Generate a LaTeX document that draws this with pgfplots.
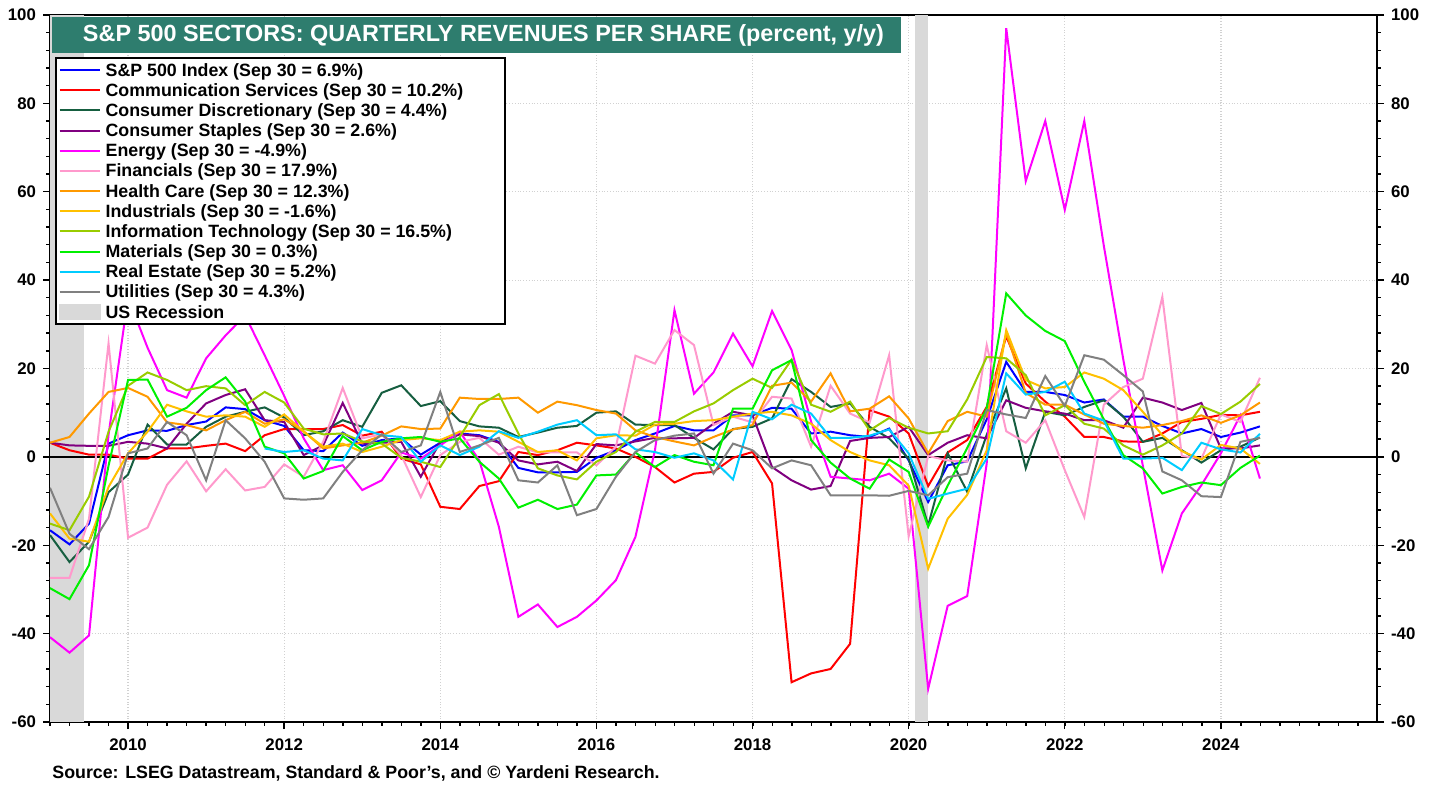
\documentclass[border=0pt]{standalone}
\usepackage{pgfplots}
\pgfplotsset{compat=1.18}
\usepackage{pgfplotstable}
\usepackage{fontspec}
\setmainfont{Liberation Sans}
\definecolor{cSP}{RGB}{0,0,255}
\definecolor{cCS}{RGB}{255,0,0}
\definecolor{cCD}{RGB}{22,94,64}
\definecolor{cST}{RGB}{128,0,128}
\definecolor{cEN}{RGB}{255,0,255}
\definecolor{cFI}{RGB}{255,153,204}
\definecolor{cHC}{RGB}{255,153,0}
\definecolor{cIN}{RGB}{255,192,0}
\definecolor{cIT}{RGB}{153,204,0}
\definecolor{cMA}{RGB}{0,240,0}
\definecolor{cRE}{RGB}{0,204,255}
\definecolor{cUT}{RGB}{128,128,128}
\definecolor{recgray}{RGB}{217,217,217}
\definecolor{titleteal}{RGB}{46,125,110}

\pgfplotstableread{
x sp cs cd st en fi hc in it ma re ut
2009.00 -16.6 3.2 -17.7 3.2 -40.8 -27.4 3.2 -12.8 -15.1 -29.7 nan -7.0
2009.25 -19.8 1.5 -23.8 2.6 -44.3 -27.4 4.5 -18.5 -16.6 -32.2 nan -17.4
2009.50 -15.1 0.5 -19.2 2.5 -40.4 -14.0 9.8 -19.2 -9.0 -24.5 nan -20.9
2009.75 3.0 0.5 -8.0 2.5 5.0 25.7 14.7 -6.8 5.7 -2.0 nan -13.6
2010.00 4.9 -0.4 -4.0 3.4 36.0 -18.3 15.6 0.8 16.1 17.4 nan 0.8
2010.25 6.0 -0.4 7.3 3.0 24.7 -16.0 13.6 5.7 19.1 17.5 nan 1.9
2010.50 5.9 1.9 2.8 1.9 15.1 -6.3 7.8 11.8 17.4 9.1 nan 7.9
2010.75 7.2 1.9 2.8 7.5 13.4 -1.0 7.2 10.3 15.1 11.1 nan 4.9
2011.00 8.0 2.5 6.8 12.1 22.3 -7.8 6.0 9.1 16.0 15.1 nan -5.3
2011.25 11.2 3.0 9.1 14.0 27.5 -2.8 8.3 9.4 15.5 18.0 nan 8.3
2011.50 10.8 1.3 10.2 15.3 32.0 -7.6 10.2 9.1 11.7 12.5 nan 4.2
2011.75 8.3 4.9 11.2 8.3 23.0 -6.8 7.5 6.8 14.7 2.3 1.9 -1.1
2012.00 7.0 6.3 8.9 7.9 13.8 -1.7 8.5 9.6 12.3 0.8 1.1 -9.4
2012.25 1.5 6.3 4.9 0.4 4.2 -4.5 5.8 5.7 6.4 -4.9 1.5 -9.7
2012.50 1.3 6.3 5.8 2.6 -3.0 3.4 1.9 2.3 5.1 -3.2 -0.4 -9.4
2012.75 5.5 7.2 8.3 12.2 -1.9 15.6 2.6 3.0 5.3 4.7 -0.8 -3.4
2013.00 2.5 4.8 6.8 3.0 -7.5 4.2 3.2 1.1 3.5 1.5 6.3 1.5
2013.25 3.8 5.7 14.5 3.2 -5.3 5.1 4.8 2.3 3.0 3.4 4.9 5.1
2013.50 4.2 -0.4 16.2 3.4 1.0 0.4 6.9 3.8 -0.2 4.2 4.5 1.1
2013.75 0.5 -1.7 11.5 -4.5 -0.4 -9.1 6.3 4.2 -1.1 4.5 -1.1 2.6
2014.00 3.2 -11.3 12.6 3.4 2.6 0.4 6.4 3.8 -2.3 3.4 2.6 14.7
2014.25 5.3 -11.8 8.1 5.1 5.7 3.4 13.4 5.7 4.5 4.2 0.4 1.1
2014.50 4.9 -6.6 6.9 4.7 -0.8 4.3 13.1 6.0 11.7 -1.1 2.3 2.6
2014.75 3.4 -5.5 6.6 3.2 -15.8 0.5 13.1 5.7 14.2 -4.9 5.8 4.3
2015.00 -2.5 1.1 4.5 -0.8 -36.2 2.3 13.4 3.4 5.3 -11.5 4.3 -5.3
2015.25 -3.5 0.4 5.5 -1.7 -33.4 1.0 10.0 1.1 -2.6 -9.7 5.7 -5.8
2015.50 -3.5 1.5 6.6 -1.1 -38.5 1.0 12.5 1.5 -4.2 -11.8 7.3 -1.9
2015.75 -3.4 3.2 7.0 -3.2 -36.2 1.0 11.7 -0.8 -5.1 -10.8 8.3 -13.2
2016.00 -0.2 2.6 10.0 2.9 -32.5 -1.9 10.6 4.2 -1.1 -4.2 4.9 -11.8
2016.25 1.5 1.9 10.3 2.6 -27.9 2.3 9.8 4.9 1.1 -4.0 5.1 -4.5
2016.50 3.8 0.0 7.3 3.5 -18.1 22.9 6.0 4.8 5.7 1.0 1.7 1.1
2016.75 5.3 -2.3 7.2 4.3 1.5 21.1 4.5 7.3 7.9 -2.3 1.1 3.8
2017.00 7.0 -5.8 7.2 4.2 33.2 28.7 3.5 7.5 7.9 0.4 -0.2 4.8
2017.25 6.0 -3.8 4.3 4.3 14.3 25.3 2.6 8.1 10.3 -1.1 0.8 5.3
2017.50 6.0 -3.4 1.7 7.5 19.1 7.2 4.5 8.3 12.1 -1.9 -0.8 -3.8
2017.75 9.4 -0.2 6.3 10.2 27.9 9.1 6.2 9.1 15.1 10.9 -5.1 3.0
2018.00 9.4 1.1 6.8 9.4 20.5 7.8 7.2 9.8 17.7 10.9 10.2 1.5
2018.25 11.1 -6.0 8.7 -2.3 33.0 13.6 16.1 10.2 15.6 19.6 8.5 -2.6
2018.50 10.9 -51.0 17.6 -5.3 24.2 13.2 16.8 9.4 22.0 21.9 11.8 -0.8
2018.75 5.3 -49.0 14.7 -7.4 8.0 2.3 12.5 7.5 11.8 3.8 9.8 -1.9
2019.00 5.7 -48.0 11.3 -6.6 -4.5 16.1 18.9 3.8 10.2 -1.3 4.3 -8.7
2019.25 4.9 -42.3 12.1 3.6 -4.9 9.8 10.3 1.1 12.5 -4.9 4.3 -8.7
2019.50 4.5 10.6 6.8 4.3 -5.3 7.8 10.9 -0.8 6.0 -7.2 4.8 -8.7
2019.75 6.4 9.1 4.2 4.5 -3.8 23.0 13.7 -1.9 8.8 -0.6 6.2 -8.8
2020.00 -0.8 5.3 -0.4 6.8 -7.2 -18.0 8.7 -6.5 6.6 -3.4 0.8 -7.7
2020.25 -10.2 -6.6 -15.5 0.4 -52.5 0.2 0.8 -25.3 5.3 -15.8 -9.5 -8.7
2020.50 -1.9 1.0 0.8 3.2 -33.7 -0.8 8.1 -14.0 5.8 -6.5 -8.3 -4.6
2020.75 -1.0 3.8 -7.9 4.9 -31.5 -1.1 10.2 -8.6 13.0 2.0 -7.2 -3.8
2021.00 8.5 11.3 5.0 4.2 -1.5 25.3 9.1 1.5 22.6 11.0 -0.4 10.6
2021.25 21.5 27.3 15.5 12.8 97.0 5.8 28.0 28.7 22.3 37.0 18.9 9.6
2021.50 14.7 16.6 -2.6 11.1 62.4 3.2 14.5 17.4 18.5 32.0 14.1 8.8
2021.75 14.7 12.5 10.2 10.3 76.0 8.3 11.8 15.5 9.4 28.5 14.7 18.3
2022.00 14.0 9.1 9.4 9.8 55.9 -3.0 11.8 15.8 11.7 26.2 17.0 11.5
2022.25 12.3 4.5 11.3 8.3 76.0 -13.6 9.6 19.1 7.5 17.0 9.8 23.0
2022.50 13.0 4.5 12.8 8.3 47.8 11.8 7.5 17.7 6.4 8.5 8.2 22.0
2022.75 9.1 3.5 9.1 6.6 22.0 15.8 7.0 15.1 2.6 0.4 -0.4 18.5
2023.00 9.1 3.4 3.4 13.4 -2.0 17.7 6.6 10.2 0.5 -2.6 -0.4 14.8
2023.25 7.0 5.3 4.3 12.3 -25.7 36.2 7.2 4.9 2.6 -8.3 -0.2 -3.3
2023.50 5.3 7.9 1.5 10.6 -12.8 0.2 8.1 1.3 5.3 -6.8 -3.0 -5.3
2023.75 6.3 8.6 -1.3 12.2 -6.4 -0.4 9.4 -0.6 11.5 -5.8 3.2 -8.9
2024.00 4.5 9.5 1.5 1.9 0.8 9.6 7.7 2.7 9.7 -6.4 1.7 -9.1
2024.25 5.5 9.4 2.3 1.9 9.4 7.9 9.4 1.9 12.5 -2.5 1.0 3.4
2024.50 6.9 10.2 4.4 2.6 -4.9 17.9 12.3 -1.6 16.5 0.3 5.2 4.3
}\datatable

\begin{document}
\begin{tikzpicture}
\path[use as bounding box] (0pt,0pt) rectangle (719pt,393.5pt);
\begin{axis}[
  at={(25pt,32.5pt)}, anchor=south west,
  width=663.5pt, height=353.5pt, scale only axis,
  xmin=2009, xmax=2026, ymin=-60, ymax=100,
  axis line style={line width=1.3pt},
  xtick={2010,2012,2014,2016,2018,2020,2022,2024},
  xticklabels={2010,2012,2014,2016,2018,2020,2022,2024},
  minor xtick={2009,2009.25,...,2026},
  ytick={-60,-40,-20,0,20,40,60,80,100},
  yticklabels={-60,-40,-20,0,20,40,60,80,100},
  minor y tick num=4,
  xtick pos=left, ytick pos=left,
  tick align=outside,
  major tick length=3.5pt, minor tick length=1.8pt,
  every tick/.style={black, line width=0.7pt},
  grid=major,
  major grid style={densely dotted, black!18, line width=0.6pt},
  ticklabel style={font=\bfseries\fontsize{8.4}{10}\selectfont},
  xticklabel style={yshift=-1.5pt},
  legend image code/.code={\draw[#1] (0pt,0pt) -- (20pt,0pt);},
  legend cell align=left,
  legend style={at={(0.0038,0.9406)}, anchor=north west, draw=black, line width=1pt, fill=white,
    font=\bfseries\fontsize{8.9}{10}\selectfont, inner sep=1.3pt, row sep=0.58pt,
    column sep=2pt,
    nodes={inner sep=0.5pt, text height=7.3pt, text depth=1.2pt}},
  every axis plot/.append style={line width=1pt},
]
\addplot[fill=recgray, draw=none, forget plot] coordinates {(2009,-60) (2009.43,-60) (2009.43,100) (2009,100)} -- cycle;
\addplot[fill=recgray, draw=none, forget plot] coordinates {(2020.083,-60) (2020.25,-60) (2020.25,100) (2020.083,100)} -- cycle;
\addplot[black, line width=1pt, forget plot] coordinates {(2009,0) (2026,0)};
\addplot[cSP] table[x=x,y=sp]{\datatable};
\addlegendentry{S\&P 500 Index (Sep 30 = 6.9\%)}
\addplot[cCS] table[x=x,y=cs]{\datatable};
\addlegendentry{\makebox[198pt][l]{Communication Services (Sep 30 = 10.2\%)}}
\addplot[cCD] table[x=x,y=cd]{\datatable};
\addlegendentry{Consumer Discretionary (Sep 30 = 4.4\%)}
\addplot[cST] table[x=x,y=st]{\datatable};
\addlegendentry{Consumer Staples (Sep 30 = 2.6\%)}
\addplot[cEN] table[x=x,y=en]{\datatable};
\addlegendentry{Energy (Sep 30 = -4.9\%)}
\addplot[cFI] table[x=x,y=fi]{\datatable};
\addlegendentry{Financials (Sep 30 = 17.9\%)}
\addplot[cHC] table[x=x,y=hc]{\datatable};
\addlegendentry{Health Care (Sep 30 = 12.3\%)}
\addplot[cIN] table[x=x,y=in]{\datatable};
\addlegendentry{Industrials (Sep 30 = -1.6\%)}
\addplot[cIT] table[x=x,y=it]{\datatable};
\addlegendentry{Information Technology (Sep 30 = 16.5\%)}
\addplot[cMA] table[x=x,y=ma]{\datatable};
\addlegendentry{Materials (Sep 30 = 0.3\%)}
\addplot[cRE] table[x=x,y=re]{\datatable};
\addlegendentry{Real Estate (Sep 30 = 5.2\%)}
\addplot[cUT] table[x=x,y=ut]{\datatable};
\addlegendentry{Utilities (Sep 30 = 4.3\%)}
\addlegendimage{legend image code/.code={\fill[recgray] (0pt,-3.5pt) rectangle (20pt,3.5pt);}}
\addlegendentry{US Recession}
\end{axis}
\begin{axis}[
  at={(25pt,32.5pt)}, anchor=south west,
  width=663.5pt, height=353.5pt, scale only axis,
  xmin=2009, xmax=2026, ymin=-60, ymax=100,
  axis y line*=right, axis x line=none,
  axis line style={line width=1.3pt},
  ytick={-60,-40,-20,0,20,40,60,80,100},
  yticklabels={-60,-40,-20,0,20,40,60,80,100},
  minor y tick num=4,
  tick align=outside,
  major tick length=3.5pt, minor tick length=1.8pt,
  every tick/.style={black, line width=0.7pt},
  ticklabel style={font=\bfseries\fontsize{8.4}{10}\selectfont},
]
\addplot[draw=none] coordinates {(2009,0) (2026,0)};
\end{axis}
\fill[titleteal] (26pt,367pt) rectangle (450.5pt,385pt);
\node[text=white, font=\bfseries\fontsize{11.7}{13}\selectfont] at (241.75pt,376pt) {S\&P 500 SECTORS: QUARTERLY REVENUES PER SHARE (percent, y/y)};
\node[anchor=west, font=\bfseries\fontsize{8.9}{10}\selectfont, inner sep=0pt] at (26pt,7pt) {Source: LSEG Datastream, Standard \& Poor's, and © Yardeni Research.};
\end{tikzpicture}
\end{document}
